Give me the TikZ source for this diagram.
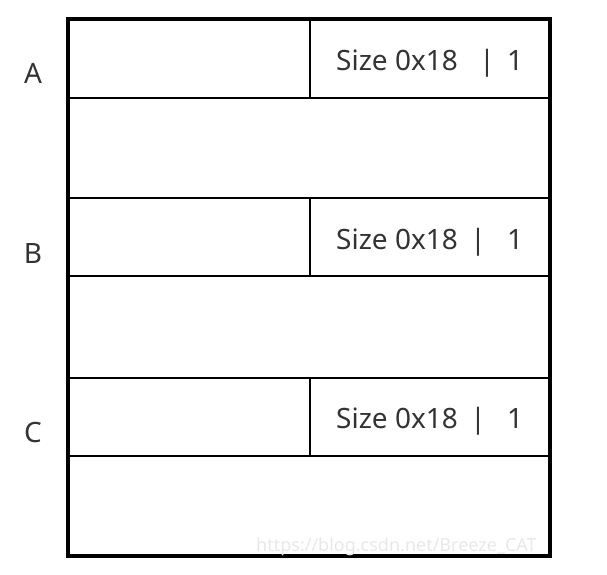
\documentclass[tikz,border=0pt]{standalone}
\usepackage{fontspec}
\setmainfont{Noto Sans}
\definecolor{txt}{HTML}{333333}
\begin{document}
\begin{tikzpicture}[x=1pt,y=-1pt,
  cell/.style={draw=black,line width=2.8pt},
  lbl/.style={font=\fontsize{28}{30}\selectfont,text=txt,inner sep=0pt,anchor=base},
  sz/.style={font=\fontsize{28}{30}\selectfont,text=txt,inner sep=0pt,anchor=base west},
  wm/.style={font=\fontsize{18}{20}\selectfont,text=gray!18,inner sep=0pt,anchor=base west}]
\useasboundingbox (0,0) rectangle (607,574);
% cells
\foreach \t/\b in {19/98,198/276,378/456}{
  \draw[cell] (68,\t) rectangle (310,\b);
  \draw[cell] (310,\t) rectangle (550,\b);
}
\draw[cell] (68,98) rectangle (550,198);
\draw[cell] (68,276) rectangle (550,378);
\draw[cell] (68,456) rectangle (550,556);
\draw[line width=3.2pt] (68,19) rectangle (550,556);
% labels
\node[lbl] (la) at (33,83) {A};
\node[lbl] (lb) at (33,263) {B};
\node[lbl] (lc) at (33,442) {C};
\node[sz] (sa) at (336,70) {Size 0x18};
\node[lbl] (pa) at (487,70) {|};
\node[lbl] (oa) at (515,70) {1};
\node[sz] (sb) at (336,249) {Size 0x18};
\node[lbl] (pb) at (478,249) {|};
\node[lbl] (ob) at (515,249) {1};
\node[sz] (sc) at (336,428) {Size 0x18};
\node[lbl] (pc) at (478,428) {|};
\node[lbl] (oc) at (515,428) {1};
\node[wm] (w) at (256,551) {https://blog.csdn.net/Breeze\_CAT};
\end{tikzpicture}
\end{document}
